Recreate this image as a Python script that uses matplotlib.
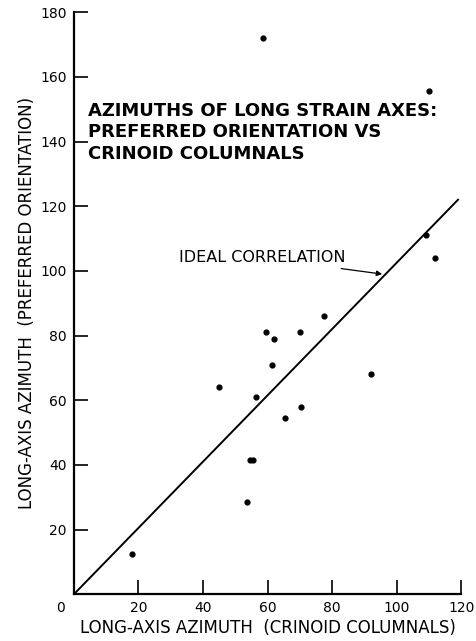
import numpy as np
import matplotlib
matplotlib.use("Agg")
import matplotlib.pyplot as plt

plt.rcParams['font.family'] = 'DejaVu Sans'

# crinoid columnal azimuth (x) vs preferred orientation azimuth (y), degrees
crinoid = [18, 45, 53.5, 54.5, 55.5, 56.5, 58.5, 59.5, 61.5, 62, 65.5, 70, 70.5, 77.5, 92, 109, 110, 112]
preferred = [12.5, 64, 28.5, 41.5, 41.5, 61, 172, 81, 71, 79, 54.5, 81, 58, 86, 68, 111, 155.5, 104]

# ideal correlation line end points
ideal_x = [0, 119]
ideal_y = [0, 122]

xticks = [20, 40, 60, 80, 100, 120]
yticks = [20, 40, 60, 80, 100, 120, 140, 160, 180]

fig = plt.figure(figsize=(4.77, 6.41), dpi=100)
ax = fig.add_axes([0.155, 0.073, 0.812, 0.908])

ax.plot(ideal_x, ideal_y, color='black', linewidth=1.4)
ax.scatter(crinoid, preferred, s=12, color='black', zorder=3)

ax.set_xlim(0, 120)
ax.set_ylim(0, 180)
ax.set_xticks(xticks)
ax.set_yticks(yticks)
ax.tick_params(direction='in', length=10, width=1.2, labelsize=10, pad=5)
for s in ['top', 'right']:
    ax.spines[s].set_visible(False)
for s in ['left', 'bottom']:
    ax.spines[s].set_linewidth(1.6)

# lone "0" at the origin
ax.annotate('0', xy=(0, 0), xytext=(-10, -5), textcoords='offset points',
            ha='center', va='top', fontsize=10)

ax.set_xlabel('LONG-AXIS AZIMUTH  (CRINOID COLUMNALS)', fontsize=12, labelpad=3)
ax.set_ylabel('LONG-AXIS AZIMUTH  (PREFERRED ORIENTATION)', fontsize=12, labelpad=3)

ax.text(4.5, 142.8, 'AZIMUTHS OF LONG STRAIN AXES:\nPREFERRED ORIENTATION VS\nCRINOID COLUMNALS',
        fontsize=13, fontweight='bold', ha='left', va='center', linespacing=1.28)

ax.annotate('IDEAL CORRELATION', xy=(95.5, 99), xytext=(32.5, 104),
            fontsize=11.5, ha='left', va='center',
            arrowprops=dict(arrowstyle='-|>', color='black', lw=0.9,
                            shrinkA=2, shrinkB=0, mutation_scale=8))

fig.savefig('out.png', dpi=100)
